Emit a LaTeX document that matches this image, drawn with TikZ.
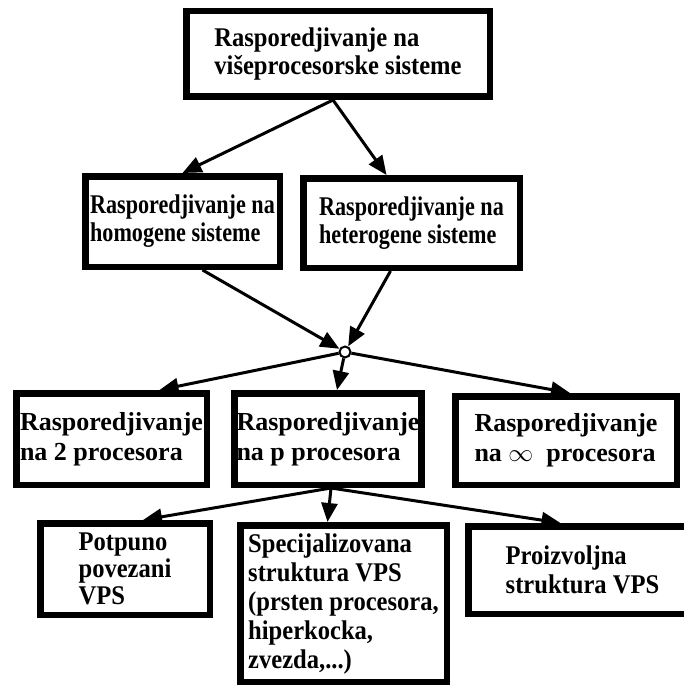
\documentclass[tikz,border=0pt]{standalone}
\usepackage{fontspec}
\setmainfont{Liberation Serif}
\newfontfamily\uskifont[FakeStretch=0.91]{Liberation Serif}
\newfontfamily\vrlouskifont[FakeStretch=0.82]{Liberation Serif}
\usetikzlibrary{arrows.meta}

\begin{document}
\begin{tikzpicture}[x=1pt,y=-1pt,
    blok/.style={draw,line width=6.5pt,fill=white,align=left,inner sep=2pt,
      font=\uskifont\fontsize{27}{29}\selectfont\bfseries},
    veza/.style={line width=3pt,-{Triangle[length=19pt,width=16pt]}}]
  \useasboundingbox (0,0) rectangle (683,690);

  % nivoi sema
  \node[blok,font=\uskifont\fontsize{27}{28}\selectfont\bfseries,
    minimum width=303.5pt,minimum height=85.5pt] (vps) at (338,54)
    {Rasporedjivanje na\\višeprocesorske sisteme};
  \node[blok,font=\vrlouskifont\fontsize{27}{28}\selectfont\bfseries,
    minimum width=194.5pt,minimum height=90.5pt] (hom) at (182.5,221.5)
    {Rasporedjivanje na\\homogene sisteme};
  \node[blok,font=\vrlouskifont\fontsize{27}{28}\selectfont\bfseries,
    minimum width=216.5pt,minimum height=89.5pt] (het) at (411.5,223)
    {Rasporedjivanje na\\heterogene sisteme};
  \node[circle,draw,line width=2pt,fill=white,inner sep=0pt,minimum size=11pt] (cvor) at (345,352) {};
  \node[blok,font=\fontsize{26}{30}\selectfont\bfseries,
    minimum width=190.5pt,minimum height=91.5pt] (dva) at (111.5,439)
    {Rasporedjivanje\\na 2 procesora};
  \node[blok,font=\fontsize{26}{30}\selectfont\bfseries,
    minimum width=183.5pt,minimum height=91.5pt] (pproc) at (328,439)
    {Rasporedjivanje\\na p procesora};
  \node[blok,font=\fontsize{26}{30}\selectfont\bfseries,
    minimum width=221.5pt,minimum height=88.5pt] (beskon) at (566,440.5)
    {Rasporedjivanje\\na $\infty$\ \ procesora};
  \node[blok,font=\uskifont\fontsize{27}{27}\selectfont\bfseries,
    minimum width=169.5pt,minimum height=91.5pt] (potp) at (125,569)
    {Potpuno\\povezani\\VPS};
  \node[blok,minimum width=206.5pt,minimum height=156.5pt] (spec) at (343.5,603.5)
    {Specijalizovana\\struktura VPS\\(prsten procesora,\\hiperkocka,\\zvezda,...)};
  \node[blok,minimum width=228.5pt,minimum height=87.5pt] (proizv) at (582.5,570)
    {Proizvoljna\\struktura VPS};

  % veze
  \draw[veza] ([xshift=-5pt]vps.south) -- (hom.north);
  \draw[veza] ([xshift=-5pt]vps.south) -- ([xshift=-25pt]het.north);
  \draw[veza] ([xshift=20pt]hom.south) -- (cvor);
  \draw[veza] ([xshift=-21pt]het.south) -- (cvor);
  \draw[veza] (cvor) -- ([xshift=48pt]dva.north);
  \draw[veza] (cvor) -- ([xshift=9pt]pproc.north);
  \draw[veza] (cvor) -- ([xshift=4pt]beskon.north);
  \foreach \cilj/\pomak in {potp/18,spec/-16,proizv/-22}
    \draw[veza] ([xshift=3pt]pproc.south) -- ([xshift=\pomak pt]\cilj.north);
\end{tikzpicture}
\end{document}
